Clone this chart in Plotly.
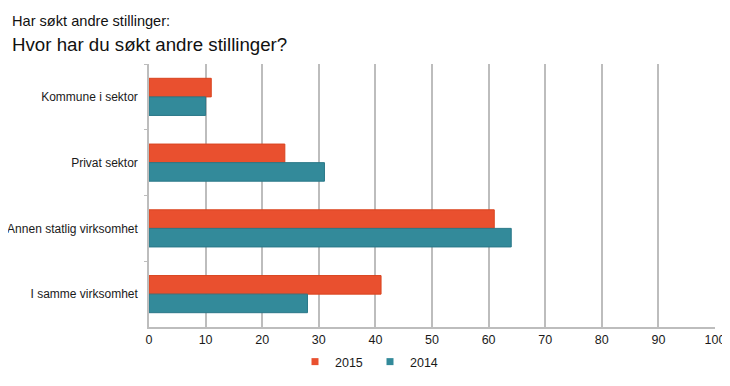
import plotly.graph_objects as go

categories = ["Kommune i sektor", "Privat sektor", "Annen statlig virksomhet", "I samme virksomhet"]
values_2015 = [11, 24, 61, 41]
values_2014 = [10, 31, 64, 28]
x_ticks = [0, 10, 20, 30, 40, 50, 60, 70, 80, 90, 100]
series_names = ["2015", "2014"]

ORANGE = "#E9502F"
TEAL = "#338A9A"
FONT = "Liberation Sans, Arial, sans-serif"

# page has an 8px body margin; size the figure so it fills the 730x386 window
W, H = 722, 378
L, R, T, B = 141, 15, 56, 59
PW, PH = W - L - R, H - T - B

fig = go.Figure()
fig.add_trace(go.Bar(y=categories, x=values_2015, name=series_names[0], orientation="h",
                     legendgroup="a", showlegend=False,
                     marker=dict(color=ORANGE, line=dict(color="#D9441F", width=1))))
fig.add_trace(go.Bar(y=categories, x=values_2014, name=series_names[1], orientation="h",
                     legendgroup="b", showlegend=False,
                     marker=dict(color=TEAL, line=dict(color="#2A7888", width=1))))
# legend entries with small square swatches
for name, col, grp in [(series_names[0], ORANGE, "a"), (series_names[1], TEAL, "b")]:
    fig.add_trace(go.Scatter(x=[None], y=[None], mode="markers", name=name, legendgroup=grp,
                             marker=dict(symbol="square", size=7, color=col)))

fig.update_layout(
    width=W, height=H,
    margin=dict(l=L, r=R, t=T, b=B, autoexpand=False),
    paper_bgcolor="white", plot_bgcolor="white",
    barmode="group", bargap=0.435, bargroupgap=0,
    font=dict(family=FONT, size=12.5, color="#1a1a1a"),
    showlegend=True,
    legend=dict(orientation="h", xref="container", yref="container",
                x=(370 - 8) / W, xanchor="center", y=1 - (362 - 8) / H, yanchor="middle",
                font=dict(size=12.5), itemwidth=30, traceorder="normal",
                entrywidth=30, entrywidthmode="pixels",
                itemclick=False, bgcolor="rgba(0,0,0,0)"),
    annotations=[
        dict(text="Har søkt andre stillinger:", xref="paper", yref="paper",
             x=-(L - 2) / PW, y=1 + (T - 13) / PH, xanchor="left", yanchor="middle",
             showarrow=False, font=dict(size=14.6, family=FONT, color="#111")),
        dict(text="Hvor har du søkt andre stillinger?", xref="paper", yref="paper",
             x=-(L - 2) / PW, y=1 + (T - 37) / PH, xanchor="left", yanchor="middle",
             showarrow=False, font=dict(size=18.7, family=FONT, color="#111")),
    ],
)
fig.update_xaxes(range=[0, 100], tickvals=x_ticks, showgrid=True, gridcolor="#BDBDBD",
                 gridwidth=1.5, showline=True, linecolor="#BDBDBD", linewidth=1.5,
                 zeroline=False, ticks="", fixedrange=True, automargin=False)
fig.update_yaxes(autorange="reversed", showline=True, linecolor="#BDBDBD", linewidth=1.5,
                 ticks="outside", tickson="boundaries", ticklen=3, tickcolor="#BDBDBD",
                 ticklabelstandoff=7, tickfont=dict(size=12),
                 showgrid=False, fixedrange=True, automargin=False)

fig.write_html("out.html")
